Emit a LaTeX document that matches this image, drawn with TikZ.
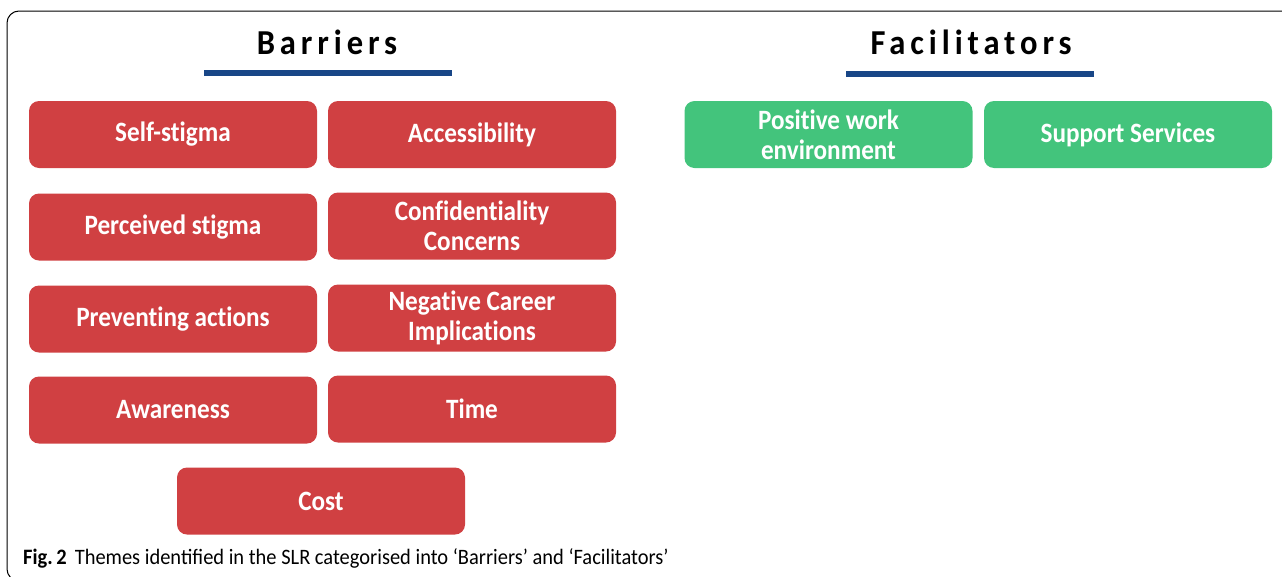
\documentclass[tikz,border=0pt]{standalone}
\usepackage{fontspec}
\setmainfont{Carlito}
\newfontfamily\titlefont[LetterSpace=14,FakeStretch=0.93]{Carlito}
\newfontfamily\boxfont[Ligatures=NoCommon,FakeStretch=0.9]{Carlito}
\newfontfamily\capfont[FakeStretch=0.93]{Carlito}
\definecolor{barred}{RGB}{208,64,66}
\definecolor{facgreen}{RGB}{67,196,124}
\definecolor{barblue}{RGB}{24,70,135}
\begin{document}
\begin{tikzpicture}[x=1pt,y=-1pt,
  theme/.style={rectangle,rounded corners=10pt,minimum width=288pt,minimum height=67pt,
    text=white,align=center,font=\boxfont\fontsize{28}{30}\selectfont\bfseries,inner sep=0pt},
  barrier/.style={theme,fill=barred},
  facil/.style={theme,fill=facgreen},
  heading/.style={font=\titlefont\fontsize{35}{36}\selectfont\bfseries,text=black,inner sep=0pt},
  underbar/.style={line width=6pt,draw=barblue}]
\useasboundingbox (0,0) rectangle (1282,576);
\begin{scope}
\clip (0,0) rectangle (1282,576);
\draw[line width=1pt,rounded corners=12pt] (7,11) rectangle (1300,581);
\end{scope}
% headings
\node[heading] (hb) at (327,42) {Barriers};
\node[heading] (hf) at (971,42) {Facilitators};
\coordinate (b1) at (204,73); \coordinate (b2) at (452,73);
\coordinate (f1) at (846,74); \coordinate (f2) at (1094,74);
\draw[underbar] (b1) -- (b2);
\draw[underbar] (f1) -- (f2);
% barriers
\node[barrier] (selfstigma) at (173,134.5) {Self-stigma};
\node[barrier] (access) at (472,134.5) {Accessibility};
\node[barrier] (perceived) at (173,227) {Perceived stigma};
\node[barrier] (confid) at (472,226) {Confidentiality\\Concerns};
\node[barrier] (prevent) at (173,319) {Preventing actions};
\node[barrier] (negative) at (472,318) {Negative Career\\Implications};
\node[barrier] (aware) at (173,410) {Awareness};
\node[barrier] (time) at (472,409) {Time};
\node[barrier] (cost) at (321,501) {Cost};
% facilitators
\node[facil] (positive) at (828.5,134.5) {Positive work\\environment};
\node[facil] (support) at (1128,134.5) {Support Services};
% caption
\node[anchor=west,inner sep=0pt,font=\capfont\fontsize{22}{24}\selectfont] (caption) at (23,558)
  {\textbf{Fig.\,2}\hspace{8pt}Themes identified in the SLR categorised into ‘Barriers’ and ‘Facilitators’};
\end{tikzpicture}
\end{document}
